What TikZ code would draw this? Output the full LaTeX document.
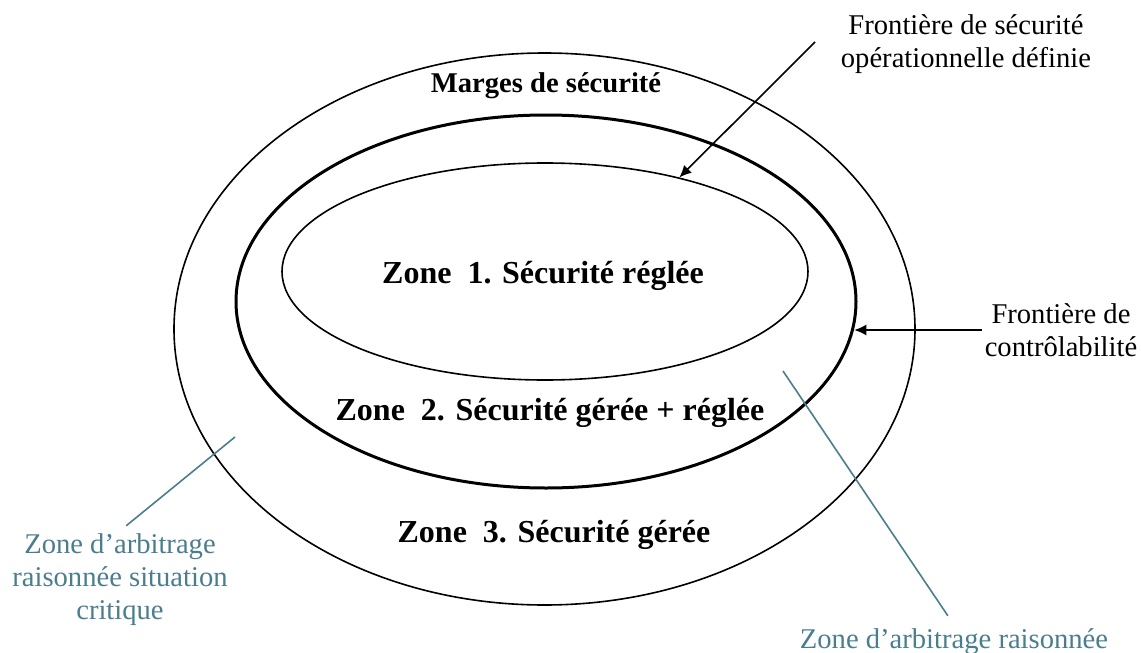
\documentclass[tikz,border=0pt]{standalone}
\usepackage{fontspec}
\setmainfont{Liberation Serif}
\usetikzlibrary{shapes.geometric, arrows.meta}
\definecolor{arbteal}{RGB}{74,126,140}
\tikzstyle{ring} = [ellipse, draw=black, line width=1.6pt, inner sep=0pt]
\tikzstyle{zonelabel} = [font=\bfseries\fontsize{32}{36}\selectfont, anchor=base, inner sep=0pt]
\tikzstyle{note} = [align=center, font=\fontsize{28.6}{33}\selectfont, inner sep=3pt]
\tikzstyle{arrow} = [line width=1.6pt, -{Latex[length=12pt,width=11pt]}]
\tikzstyle{leader} = [draw=arbteal, line width=1.6pt]

\begin{document}
\begin{tikzpicture}[x=1pt, y=-1pt]
  \useasboundingbox (0,0) rectangle (1141,653);

  \node (zone3) [ring, minimum width=741pt, minimum height=552pt] at (544.5,329) {};
  \node (zone2) [ring, line width=3pt, minimum width=620pt, minimum height=373pt] at (546,301.5) {};
  \node (zone1) [ring, minimum width=526pt, minimum height=217pt] at (545,271.5) {};

  \node (marges) [zonelabel, font=\bfseries\fontsize{28.6}{33}\selectfont] at (546,92) {Marges de sécurité};
  \node (lab1) [zonelabel] at (543,283) {Zone~~1. Sécurité réglée};
  \node (lab2) [zonelabel] at (550,420) {Zone~~2. Sécurité gérée + réglée};
  \node (lab3) [zonelabel] at (554,542) {Zone~~3. Sécurité gérée};

  \node (frontsec) [note] at (966,44) {Frontière de sécurité\\opérationnelle définie};
  \node (ctrl) [note] at (1061,330) {Frontière de\\contrôlabilité};
  \node (crit) [note, text=arbteal] at (120,580) {Zone d’arbitrage\\raisonnée situation\\critique};
  \node (arbit) [note, text=arbteal, anchor=base] at (954,648) {Zone d’arbitrage raisonnée};

  \coordinate (secstart) at (815,42);
  \coordinate (critpt) at (235,437);
  \coordinate (arbpt) at (783,371);

  \draw [arrow] (secstart) -- (zone1.35);
  \draw [arrow] (ctrl.west) -- (zone2.-5 |- ctrl.west);
  \draw [leader, shorten >=8pt] (critpt) -- (crit.north);
  \draw [leader, shorten >=11pt] (arbpt) -- (arbit.north);

\end{tikzpicture}
\end{document}
